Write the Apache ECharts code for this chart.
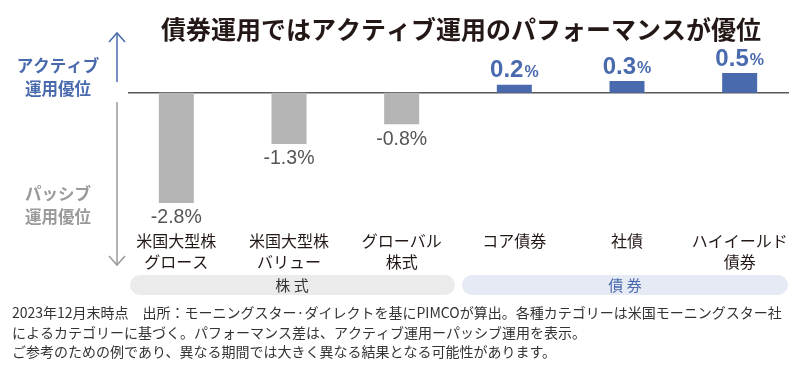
<!DOCTYPE html>
<html><head><meta charset="utf-8">
<script src="https://cdn.jsdelivr.net/npm/echarts@6/dist/echarts.min.js"></script>
<style>html,body{margin:0;padding:0;background:#fff}#c{width:800px;height:373px}</style>
</head><body><div id="c"></div>
<script>
const categories = ['米国大型株\nグロース','米国大型株\nバリュー','グローバル\n株式','コア債券','社債','ハイイールド\n債券'];
const values = [-2.8, -1.3, -0.8, 0.2, 0.3, 0.5];
const groupLabels = ['株 式', '債 券'];
const titleText = '債券運用ではアクティブ運用のパフォーマンスが優位';
const activeLabel = 'アクティブ\n運用優位';
const passiveLabel = 'パッシブ\n運用優位';
const notes = [
  '2023年12月末時点　出所：モーニングスター·ダイレクトを基にPIMCOが算出。各種カテゴリーは米国モーニングスター社',
  'によるカテゴリーに基づく。パフォーマンス差は、アクティブ運用ーパッシブ運用を表示。',
  'ご参考のための例であり、異なる期間では大きく異なる結果となる可能性があります。'
];

const BLUE = '#4a6aae', GRAY = '#b4b4b4';
const JP = '"Noto Sans CJK JP","Noto Sans",sans-serif';
const NUM = '"Liberation Sans",Arial,sans-serif';

const chart = echarts.init(document.getElementById('c'));
chart.setOption({
  animation: false,
  title: {
    text: titleText, left: 456, top: 12, textAlign: 'center',
    textStyle: {fontFamily: JP, fontSize: 25, fontWeight: 'bold', color: '#231815'}
  },
  grid: {left: 120, right: 4, top: 73, height: 138},
  xAxis: {
    type: 'category', data: categories,
    axisLine: {show: false, onZero: false}, axisTick: {show: false},
    axisLabel: {margin: 19, fontFamily: JP, fontSize: 16, color: '#231815', lineHeight: 21, interval: 0}
  },
  yAxis: {type: 'value', min: -3, max: 0.5, show: false, splitLine: {show: false}},
  series: [{
    type: 'bar', barWidth: 35,
    data: values.map(v => ({
      value: v,
      itemStyle: {color: v < 0 ? GRAY : BLUE},
      label: v < 0 ? {
        show: true, position: 'bottom', distance: 5,
        formatter: p => p.value.toFixed(1) + '%',
        fontFamily: NUM, fontSize: 19.5, color: '#555'
      } : {
        show: true, position: 'top', distance: 2,
        formatter: p => '{n|' + p.value.toFixed(1) + '}{p|%}',
        rich: {
          n: {fontFamily: NUM, fontSize: 24, fontWeight: 'bold', color: BLUE},
          p: {fontFamily: NUM, fontSize: 16, fontWeight: 'bold', color: BLUE, padding: [4,0,0,1]}
        }
      }
    }))
  }]
});

const y0 = chart.convertToPixel({yAxisIndex: 0}, 0);
chart.setOption({
  graphic: [
    {type: 'line', shape: {x1: 128, y1: y0, x2: 789, y2: y0}, style: {stroke: '#595757', lineWidth: 1.5}},
    {type: 'polyline', shape: {points: [[117, 82], [117, 33]]}, style: {stroke: BLUE, lineWidth: 1.5, fill: null}},
    {type: 'polyline', shape: {points: [[109, 42], [117, 33], [125, 42]]}, style: {stroke: BLUE, lineWidth: 1.5, fill: null}},
    {type: 'polyline', shape: {points: [[117, 102], [117, 265]]}, style: {stroke: '#9a9a9a', lineWidth: 1.5, fill: null}},
    {type: 'polyline', shape: {points: [[109, 256], [117, 265], [125, 256]]}, style: {stroke: '#9a9a9a', lineWidth: 1.5, fill: null}},
    {type: 'text', style: {text: activeLabel, x: 58, y: 54, textAlign: 'center', fontFamily: JP, fontSize: 16.5, fontWeight: 'bold', fill: BLUE, lineHeight: 23}},
    {type: 'text', style: {text: passiveLabel, x: 58, y: 182, textAlign: 'center', fontFamily: JP, fontSize: 16.5, fontWeight: 'bold', fill: '#9a9a9a', lineHeight: 23}},
    {type: 'rect', shape: {x: 130, y: 275, width: 325, height: 20, r: 10}, style: {fill: '#ebebeb'}},
    {type: 'rect', shape: {x: 462, y: 275, width: 326, height: 20, r: 10}, style: {fill: '#e6eaf5'}},
    {type: 'text', style: {text: groupLabels[0], x: 292, y: 285, textAlign: 'center', textVerticalAlign: 'middle', fontFamily: JP, fontSize: 15, fill: '#333'}},
    {type: 'text', style: {text: groupLabels[1], x: 625, y: 285, textAlign: 'center', textVerticalAlign: 'middle', fontFamily: JP, fontSize: 15, fill: BLUE}},
    {type: 'text', style: {text: notes.join('\n'), x: 12, y: 303, fontFamily: JP, fontSize: 14, fill: '#333', lineHeight: 19.5}}
  ]
});
</script></body></html>
